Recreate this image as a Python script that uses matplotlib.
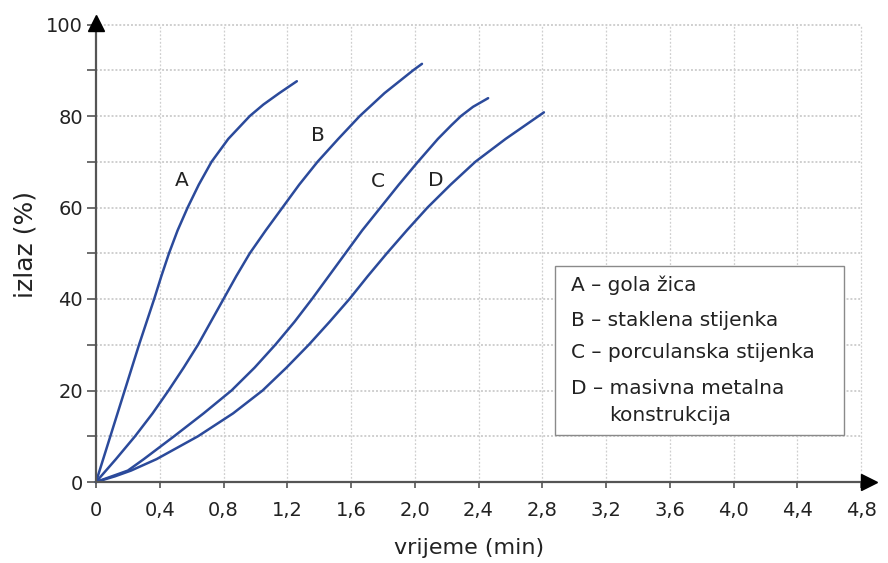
import matplotlib
matplotlib.use("Agg")
import matplotlib.pyplot as plt
from matplotlib.patches import Rectangle

plt.rcParams['font.family'] = ['DejaVu Sans']

# ---- data ----
a_y = [0, 10, 20, 30, 40, 45, 50, 55, 60, 65, 70, 75, 80, 82.5, 85, 87.6]
a_x = [0, 0.09, 0.18, 0.27, 0.365, 0.41, 0.458, 0.512, 0.575, 0.645, 0.725, 0.83, 0.965, 1.05, 1.15, 1.26]

b_y = [0, 5, 10, 15, 20, 25, 30, 35, 40, 45, 50, 55, 60, 65, 70, 75, 80, 85, 90, 91.4]
b_x = [0, 0.125, 0.245, 0.355, 0.455, 0.55, 0.64, 0.72, 0.80, 0.88, 0.965, 1.065, 1.17, 1.275, 1.39, 1.52, 1.655, 1.81, 1.99, 2.045]

c_y = [0, 2.5, 5, 10, 15, 20, 25, 30, 35, 40, 45, 50, 55, 60, 65, 70, 75, 78, 80, 82, 83.9]
c_x = [0, 0.2, 0.3, 0.49, 0.675, 0.85, 0.995, 1.125, 1.245, 1.355, 1.46, 1.565, 1.67, 1.785, 1.90, 2.02, 2.145, 2.23, 2.29, 2.365, 2.46]

d_y = [0, 1.25, 2.5, 5, 10, 15, 20, 25, 30, 35, 40, 45, 50, 55, 60, 65, 70, 75, 80.8]
d_x = [0, 0.12, 0.22, 0.38, 0.64, 0.86, 1.045, 1.195, 1.335, 1.465, 1.59, 1.705, 1.825, 1.95, 2.08, 2.225, 2.38, 2.57, 2.81]

curve_names = ["A", "B", "C", "D"]
curve_label_pos = [(0.54, 66), (1.39, 75.8), (1.77, 65.6), (2.13, 66)]

legend_lines = ["A – gola žica", "B – staklena stijenka",
                "C – porculanska stijenka", "D – masivna metalna"]
legend_extra = "konstrukcija"

x_ticks = [0, 0.4, 0.8, 1.2, 1.6, 2.0, 2.4, 2.8, 3.2, 3.6, 4.0, 4.4, 4.8]
x_ticklabels = ["0", "0,4", "0,8", "1,2", "1,6", "2,0", "2,4", "2,8",
                "3,2", "3,6", "4,0", "4,4", "4,8"]
y_major = [0, 20, 40, 60, 80, 100]
y_minor = [10, 30, 50, 70, 90]

x_label = "vrijeme (min)"
y_label = "izlaz (%)"

# ---- figure ----
W, H = 888, 563
fig = plt.figure(figsize=(W / 100, H / 100), dpi=100)
x0px, y0px = 96, 482
px_per_x = 159.4
px_per_y = 4.575
xmax, ymax = 4.88, 102
ax = fig.add_axes([x0px / W, (H - y0px) / H,
                   xmax * px_per_x / W, ymax * px_per_y / H])
ax.set_xlim(0, xmax)
ax.set_ylim(0, ymax)

for s in ["top", "right"]:
    ax.spines[s].set_visible(False)
for s in ["left", "bottom"]:
    ax.spines[s].set_color("#555555")
    ax.spines[s].set_linewidth(1.6)
    ax.spines[s].set_zorder(4)
ax.spines["bottom"].set_bounds(0, 4.82)
ax.spines["left"].set_bounds(0, 99)

# arrow heads
ax.plot([4.85], [0], marker=">", color="black", markersize=11, clip_on=False, zorder=5)
ax.plot([0], [100.3], marker="^", color="black", markersize=11, clip_on=False, zorder=5)

# grid
grid_c = "#cfcfcf"
ax.hlines(y_minor + y_major[1:], 0, x_ticks[-1], colors=grid_c, linestyles=(0, (1, 1)),
          linewidth=1.4, zorder=0)
ax.vlines(x_ticks[1:], 0, y_major[-1], colors=grid_c, linestyles=(0, (1.5, 1.5)),
          linewidth=0.9, zorder=0)

# ticks
ax.set_xticks(x_ticks)
ax.set_xticklabels(x_ticklabels)
ax.set_yticks(y_major)
ax.set_yticks(y_minor, minor=True)
ax.tick_params(axis="x", direction="out", length=4.5, width=1.2, color="#555555",
               pad=9, labelsize=14, labelcolor="#222222")
ax.tick_params(axis="y", which="both", direction="out", length=6.5, width=1.2,
               color="#555555", pad=3, labelsize=14, labelcolor="#222222")

# curves
blue = "#2b4a9b"
for xs, ys in [(a_x, a_y), (b_x, b_y), (c_x, c_y), (d_x, d_y)]:
    ax.plot(xs, ys, color=blue, linewidth=1.8, solid_capstyle="round",
            solid_joinstyle="round", clip_on=False, zorder=3)

for name, (tx, ty) in zip(curve_names, curve_label_pos):
    ax.text(tx, ty, name, fontsize=14.5, color="#222222", ha="center", va="center", zorder=4)

# legend box
lx0, lx1 = 2.88, 4.69
ly0, ly1 = 10.3, 47.2
ax.add_patch(Rectangle((lx0, ly0), lx1 - lx0, ly1 - ly0, facecolor="white",
                       edgecolor="#8a8a8a", linewidth=1.0, zorder=5))
row_y = [43.1, 35.4, 28.2, 20.5]
for t, yy in zip(legend_lines, row_y):
    ax.text(2.98, yy, t, fontsize=14.5, color="#222222", ha="left", va="center", zorder=6)
ax.text(3.22, 14.6, legend_extra, fontsize=14.5, color="#222222", ha="left", va="center", zorder=6)

# axis labels
fig.text(469 / W, 1 - 548 / H, x_label, fontsize=16, color="#222222", ha="center", va="center")
fig.text(26 / W, 1 - 245 / H, y_label, fontsize=18, color="#222222", ha="center", va="center",
         rotation=90)

fig.savefig("out.png", dpi=100)
